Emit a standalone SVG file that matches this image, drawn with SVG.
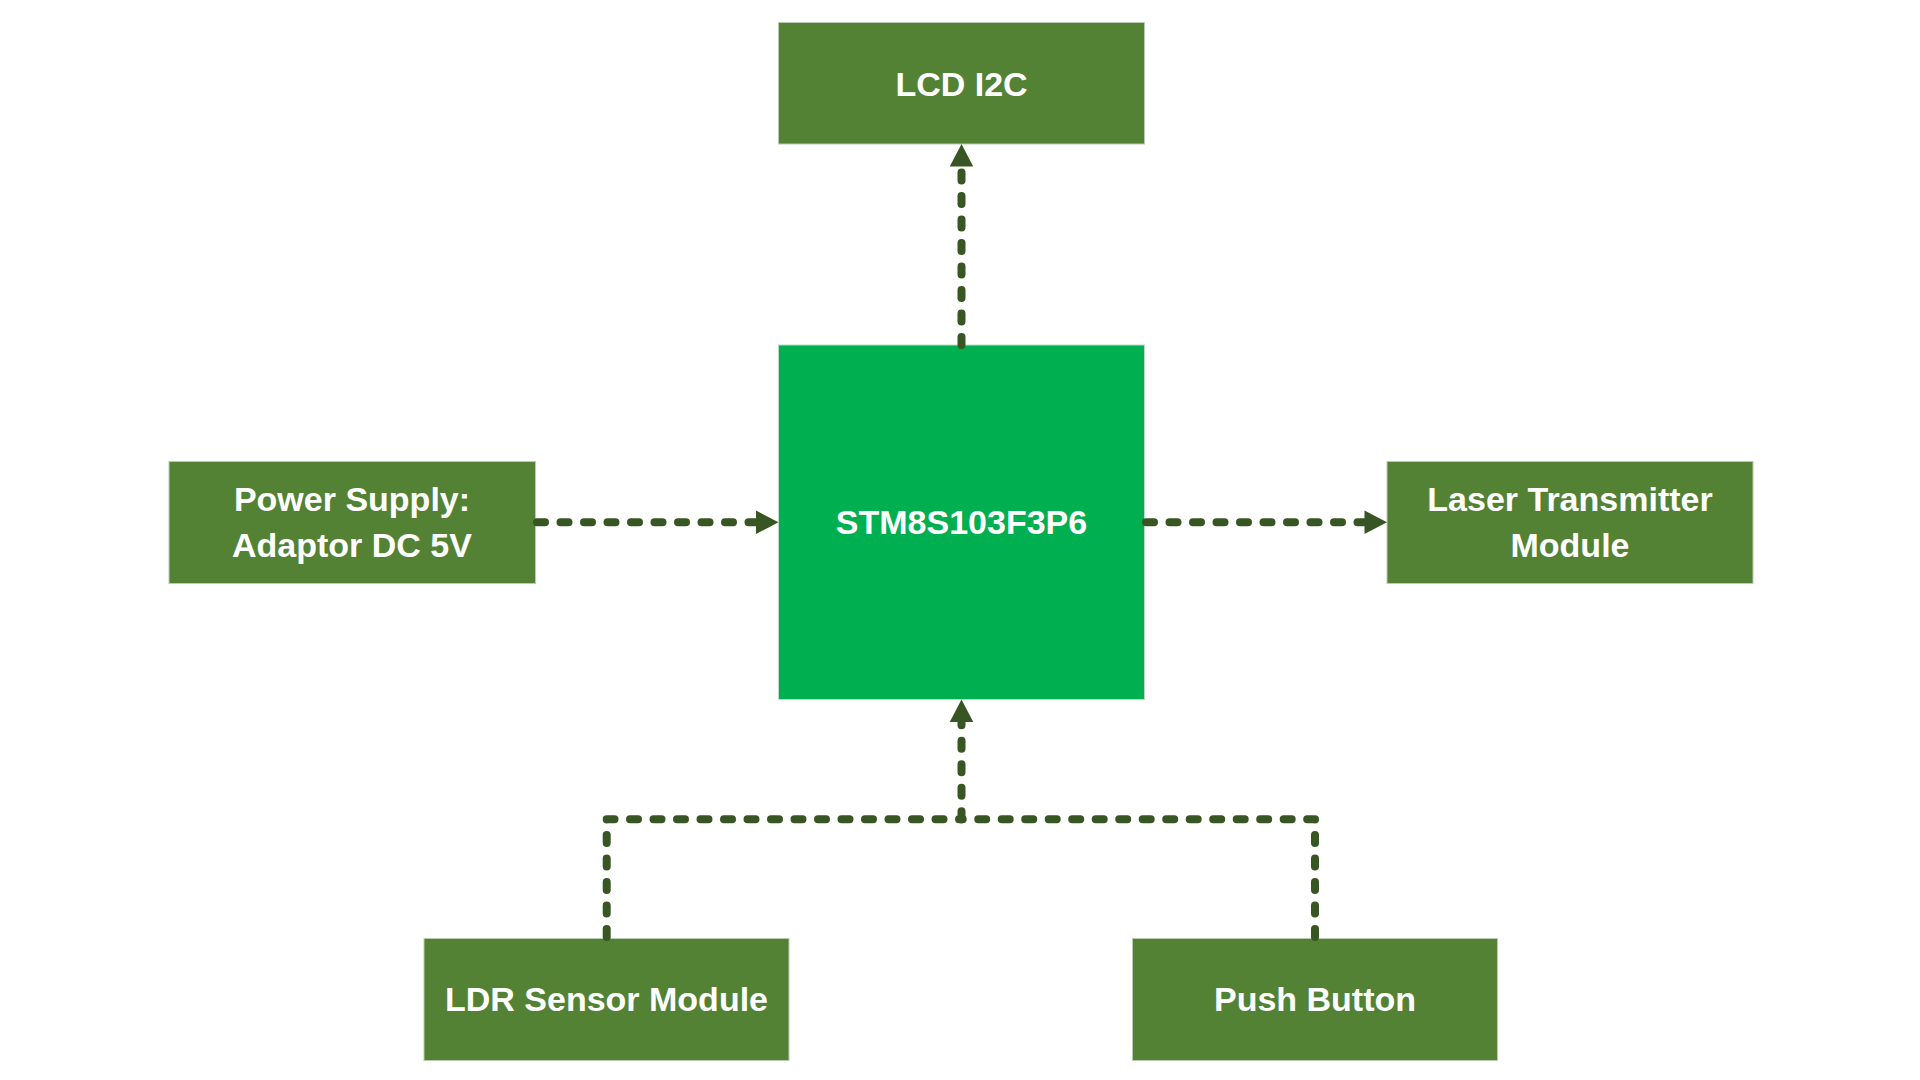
<svg xmlns="http://www.w3.org/2000/svg" width="1920" height="1080" viewBox="0 0 1920 1080">
  <style>
    .box { fill: #548235; stroke: #b9cbb0; stroke-width: 1; }
    .main { fill: #00b050; stroke: #b9dcc4; stroke-width: 1; }
    .lbl { font-family: "Liberation Sans", Arial, sans-serif; font-weight: bold; font-size: 34px; fill: #ffffff; text-anchor: middle; }
    .conn { fill: none; stroke: #375623; stroke-width: 8; stroke-dasharray: 8 15.5; stroke-linecap: round; stroke-linejoin: round; }
  </style>
  <defs>
    <marker id="arrow" markerUnits="userSpaceOnUse" markerWidth="24" markerHeight="25" refX="0" refY="11.75" orient="auto" overflow="visible">
      <path d="M0,0 L22.5,11.75 L0,23.5 Z" fill="#375623"/>
    </marker>
  </defs>
  <rect width="1920" height="1080" fill="#ffffff"/>

  <g id="node-lcd">
    <rect class="box" x="778.5" y="22.5" width="366" height="121.5"/>
    <text class="lbl" x="961.5" y="95.5">LCD I2C</text>
  </g>
  <g id="node-mcu">
    <rect class="main" x="778.5" y="345" width="366" height="354.5"/>
    <text class="lbl" x="961.5" y="533.5">STM8S103F3P6</text>
  </g>
  <g id="node-power">
    <rect class="box" x="169" y="461.5" width="366.5" height="122"/>
    <text class="lbl" x="352" y="511">Power Supply:</text>
    <text class="lbl" x="352" y="556.7">Adaptor DC 5V</text>
  </g>
  <g id="node-laser">
    <rect class="box" x="1387" y="461.5" width="366" height="122"/>
    <text class="lbl" x="1570" y="511">Laser Transmitter</text>
    <text class="lbl" x="1570" y="556.7">Module</text>
  </g>
  <g id="node-ldr">
    <rect class="box" x="424" y="938.5" width="365" height="122"/>
    <text class="lbl" x="606.5" y="1010.5">LDR Sensor Module</text>
  </g>
  <g id="node-button">
    <rect class="box" x="1132.5" y="938.5" width="365" height="122"/>
    <text class="lbl" x="1315" y="1010.5">Push Button</text>
  </g>

  <g id="connectors">
    <path class="conn" d="M961.5,345 V166.5" marker-end="url(#arrow)"/>
    <path class="conn" d="M537,522.3 H756" marker-end="url(#arrow)"/>
    <path class="conn" d="M1146,522.3 H1364.5" marker-end="url(#arrow)"/>
    <path class="conn" d="M606.7,937 V819.3 H961.5"/>
    <path class="conn" d="M1315,937 V819.3 H961.5"/>
    <path class="conn" d="M961.5,819.3 V722" marker-end="url(#arrow)"/>
  </g>
</svg>
